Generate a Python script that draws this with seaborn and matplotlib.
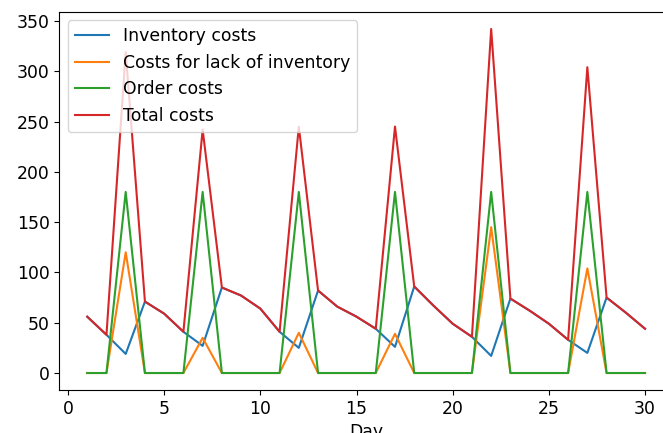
import matplotlib
matplotlib.use("Agg")
import matplotlib.pyplot as plt
import seaborn as sns
import pandas as pd

days = list(range(1, 31))

inventory_costs = [56, 38, 19, 71, 59, 41, 27, 85, 77, 64,
                   41, 25, 82, 66, 56, 44, 26, 86, 67, 49,
                   36, 17, 74, 62, 49, 33, 20, 75, 60, 44]
lack_costs = [0, 0, 120, 0, 0, 0, 35, 0, 0, 0,
              0, 40, 0, 0, 0, 0, 39, 0, 0, 0,
              0, 145, 0, 0, 0, 0, 104, 0, 0, 0]
order_costs = [0, 0, 180, 0, 0, 0, 180, 0, 0, 0,
               0, 180, 0, 0, 0, 0, 180, 0, 0, 0,
               0, 180, 0, 0, 0, 0, 180, 0, 0, 0]
total_costs = [56, 38, 319, 71, 59, 41, 242, 85, 77, 64,
               41, 245, 82, 66, 56, 44, 245, 86, 67, 49,
               36, 342, 74, 62, 49, 33, 304, 75, 60, 44]

series_names = ["Inventory costs", "Costs for lack of inventory",
                "Order costs", "Total costs"]
series_values = [inventory_costs, lack_costs, order_costs, total_costs]

frames = [pd.DataFrame({"Day": days, "Cost": vals, "Series": name})
          for name, vals in zip(series_names, series_values)]
df = pd.concat(frames, ignore_index=True)

plt.rcParams["font.size"] = 12.4
fig = plt.figure(figsize=(6.63, 4.33), dpi=100)
ax = fig.add_axes([0.0895, 0.0988, 0.9255, 0.874])

sns.lineplot(data=df, x="Day", y="Cost", hue="Series",
             hue_order=series_names,
             palette=["tab:blue", "tab:orange", "tab:green", "tab:red"],
             linewidth=1.5, ax=ax)

ax.set_xlabel("Day")
ax.set_ylabel("")
ax.set_xticks([0, 5, 10, 15, 20, 25, 30])
ax.set_yticks([0, 50, 100, 150, 200, 250, 300, 350])
ax.spines["right"].set_visible(False)
ax.legend(loc="upper left", title=None)

fig.savefig("out.png", dpi=100)
